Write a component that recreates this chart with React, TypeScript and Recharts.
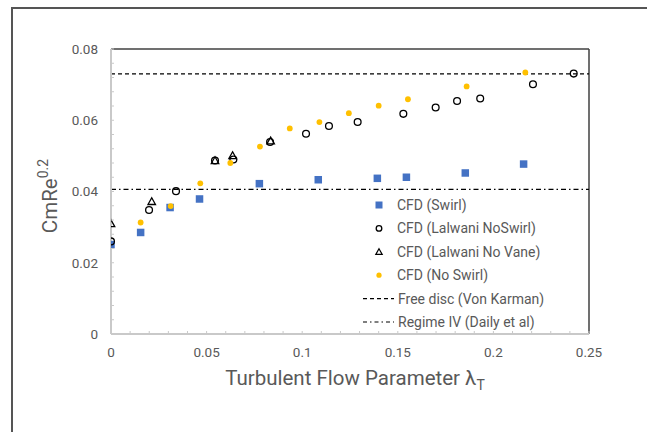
import React from 'react';
import { ScatterChart, Scatter, XAxis, YAxis, ReferenceLine, Legend } from 'recharts';

// Turbulent flow parameter (x) and moment coefficient CmRe^0.2 (y) per series
const swirlX = [0, 0.0155, 0.0309, 0.0463, 0.0776, 0.1084, 0.1393, 0.1545, 0.1853, 0.2158];
const swirlY = [0.0251, 0.0285, 0.0355, 0.0379, 0.0422, 0.0433, 0.0437, 0.044, 0.0452, 0.0477];

const lalwaniNoSwirlX = [0, 0.0199, 0.034, 0.0544, 0.064, 0.0832, 0.102, 0.114, 0.129, 0.1529, 0.1698, 0.181, 0.1931, 0.2207, 0.242];
const lalwaniNoSwirlY = [0.026, 0.0348, 0.0401, 0.0487, 0.049, 0.0539, 0.0562, 0.0584, 0.0595, 0.0618, 0.0636, 0.0654, 0.0661, 0.0701, 0.0731];

const lalwaniNoVaneX = [0, 0.0213, 0.0544, 0.0636, 0.0835];
const lalwaniNoVaneY = [0.0311, 0.0373, 0.0488, 0.0502, 0.0543];

const noSwirlX = [0.0155, 0.0312, 0.0467, 0.0624, 0.0779, 0.0935, 0.109, 0.1244, 0.14, 0.1553, 0.186, 0.2167];
const noSwirlY = [0.0313, 0.0359, 0.0423, 0.048, 0.0526, 0.0577, 0.0595, 0.062, 0.0641, 0.0659, 0.0695, 0.0734];

// Reference correlations
const FREE_DISC = 0.073;
const REGIME_IV = 0.0406;

// Axis tick values (minor ticks carry no label)
const xTicks = [0, 0.01, 0.02, 0.03, 0.04, 0.05, 0.06, 0.07, 0.08, 0.09, 0.1, 0.11, 0.12, 0.13, 0.14, 0.15, 0.16, 0.17, 0.18, 0.19, 0.2, 0.21, 0.22, 0.23, 0.24, 0.25];
const xTickLabels = ['0', '0.05', '0.1', '0.15', '0.2', '0.25'];
const yTicks = [0, 0.004, 0.008, 0.012, 0.016, 0.02, 0.024, 0.028, 0.032, 0.036, 0.04, 0.044, 0.048, 0.052, 0.056, 0.06, 0.064, 0.068, 0.072, 0.076, 0.08];
const yTickLabels = ['0', '0.02', '0.04', '0.06', '0.08'];

const zip = (xs: number[], ys: number[]) => xs.map((x, i) => ({ x, y: ys[i] }));

const swirl = zip(swirlX, swirlY);
const lalwaniNoSwirl = zip(lalwaniNoSwirlX, lalwaniNoSwirlY);
const lalwaniNoVane = zip(lalwaniNoVaneX, lalwaniNoVaneY);
const noSwirl = zip(noSwirlX, noSwirlY);

const W = 647;
const H = 432;
const PLOT_LEFT = 111;
const PLOT_TOP = 49;
const PLOT_RIGHT = 589;
const PLOT_BOTTOM = 334;
const Y_AXIS_W = 60;
const X_AXIS_H = 30;

const FONT = 'Roboto, "Noto Sans", sans-serif';
const TEXT = '#595959';
const BLUE = '#4472C4';
const GOLD = '#FFC000';
const AXIS = '#c9c9c9';

const fmt = (v: number) => String(Number(v.toFixed(3)));

const XTick = (props: any) => {
  const { x, y, payload } = props;
  const label = fmt(payload.value);
  return (
    <g>
      <line x1={x} x2={x} y1={PLOT_BOTTOM} y2={PLOT_BOTTOM - 3} stroke={AXIS} strokeWidth={1} />
      {xTickLabels.includes(label) && (
        <text x={x} y={y} dy="0.71em" textAnchor="middle" fontSize={13.5} fill={TEXT} fontFamily={FONT}>
          {label}
        </text>
      )}
    </g>
  );
};

const YTick = (props: any) => {
  const { x, y, payload } = props;
  const label = fmt(payload.value);
  return (
    <g>
      <line x1={PLOT_LEFT} x2={PLOT_LEFT + 3} y1={y} y2={y} stroke={AXIS} strokeWidth={1} />
      {yTickLabels.includes(label) && (
        <text x={x} y={y} dy="0.355em" textAnchor="end" fontSize={13.5} fill={TEXT} fontFamily={FONT}>
          {label}
        </text>
      )}
    </g>
  );
};

const XTitle = () => (
  <text x={355} y={385} textAnchor="middle" fontSize={20.5} fill={TEXT} fontFamily={FONT}>
    Turbulent Flow Parameter λ
    <tspan fontSize={14} dy={5}>T</tspan>
  </text>
);

const YTitle = () => (
  <text
    x={57}
    y={196}
    transform="rotate(-90 57 196)"
    textAnchor="middle"
    fontSize={20.5}
    fill={TEXT}
    fontFamily={FONT}
  >
    CmRe
    <tspan fontSize={14} dy={-9}>0.2</tspan>
  </text>
);

const square = (size: number, color: string) => (p: any) => (
  <rect x={p.cx - size / 2} y={p.cy - size / 2} width={size} height={size} fill={color} />
);
const ring = (r: number) => (p: any) => (
  <circle cx={p.cx} cy={p.cy} r={r} fill="none" stroke="#000" strokeWidth={1.3} />
);
const triangle = (s: number) => (p: any) => {
  const h = s * 0.9;
  return (
    <path
      d={`M${p.cx},${p.cy - h / 2} L${p.cx + s / 2},${p.cy + h / 2} L${p.cx - s / 2},${p.cy + h / 2} Z`}
      fill="none"
      stroke="#000"
      strokeWidth={1.3}
      strokeLinejoin="miter"
    />
  );
};
const dot = (r: number, color: string) => (p: any) => <circle cx={p.cx} cy={p.cy} r={r} fill={color} />;

const legendRows = [
  { kind: 'square', label: 'CFD (Swirl)' },
  { kind: 'ring', label: 'CFD (Lalwani NoSwirl)' },
  { kind: 'triangle', label: 'CFD (Lalwani No Vane)' },
  { kind: 'dot', label: 'CFD (No Swirl)' },
  { kind: 'dash', label: 'Free disc (Von Karman)' },
  { kind: 'dashdot', label: 'Regime IV (Daily et al)' },
];

const LegendBox = () => (
  <svg width={250} height={140} style={{ display: 'block', overflow: 'visible' }}>
    {legendRows.map((row, i) => {
      const cy = 12 + i * 23.4;
      const mx = 24;
      let marker: React.ReactNode = null;
      if (row.kind === 'square') marker = <rect x={mx - 3.5} y={cy - 3.5} width={7} height={7} fill={BLUE} />;
      if (row.kind === 'ring') marker = <circle cx={mx} cy={cy} r={2.8} fill="none" stroke="#000" strokeWidth={1.3} />;
      if (row.kind === 'triangle')
        marker = (
          <path d={`M${mx},${cy - 3} L${mx + 3.2},${cy + 2.6} L${mx - 3.2},${cy + 2.6} Z`} fill="none" stroke="#000" strokeWidth={1.2} />
        );
      if (row.kind === 'dot') marker = <circle cx={mx} cy={cy} r={2.6} fill={GOLD} />;
      if (row.kind === 'dash')
        marker = <line x1={8} x2={39} y1={cy} y2={cy} stroke="#000" strokeWidth={1.2} strokeDasharray="4 3" />;
      if (row.kind === 'dashdot')
        marker = <line x1={8} x2={39} y1={cy} y2={cy} stroke="#000" strokeWidth={1.2} strokeDasharray="4 3 1.5 3" />;
      const tx = row.kind === 'dash' || row.kind === 'dashdot' ? 43 : 42;
      return (
        <g key={row.label}>
          {marker}
          <text x={tx} y={cy} dy="0.35em" fontSize={14} fill={TEXT} fontFamily={FONT}>
            {row.label}
          </text>
        </g>
      );
    })}
  </svg>
);

export default function App() {
  return (
    <div style={{ position: 'absolute', left: 0, top: 0, width: W, height: H, overflow: 'hidden', background: '#fff' }}>
      <div
        style={{
          position: 'absolute',
          left: 11,
          top: 7,
          width: W + 40,
          height: H + 40,
          border: '2px solid #555',
          boxSizing: 'border-box',
        }}
      />
      <div style={{ position: 'absolute', left: 0, top: 0 }}>
        <ScatterChart
          width={W}
          height={H}
          margin={{
            top: PLOT_TOP,
            right: W - PLOT_RIGHT,
            bottom: H - PLOT_BOTTOM - X_AXIS_H,
            left: PLOT_LEFT - Y_AXIS_W,
          }}
        >
          <XAxis
            type="number"
            dataKey="x"
            domain={[0, 0.25]}
            ticks={xTicks}
            interval={0}
            tick={XTick}
            tickLine={false}
            tickSize={4}
            tickMargin={9}
            height={X_AXIS_H}
            axisLine={{ stroke: AXIS, strokeWidth: 2 }}
            allowDataOverflow
            label={XTitle}
          />
          <YAxis
            type="number"
            dataKey="y"
            domain={[0, 0.08]}
            ticks={yTicks}
            interval={0}
            tick={YTick}
            tickLine={false}
            tickSize={0}
            tickMargin={13}
            width={Y_AXIS_W}
            axisLine={{ stroke: AXIS, strokeWidth: 2 }}
            allowDataOverflow
            label={YTitle}
          />
          <ReferenceLine y={0.08} stroke="#404040" strokeWidth={1.5} />
          <ReferenceLine x={0.25} stroke="#404040" strokeWidth={1.5} />
          <ReferenceLine y={FREE_DISC} stroke="#000" strokeWidth={1.2} strokeDasharray="4 3" />
          <ReferenceLine y={REGIME_IV} stroke="#000" strokeWidth={1.2} strokeDasharray="5 3 1.5 3" />
          <Scatter name="CFD (Swirl)" data={swirl} shape={square(7.5, BLUE)} isAnimationActive={false} />
          <Scatter name="CFD (Lalwani NoSwirl)" data={lalwaniNoSwirl} shape={ring(3.4)} isAnimationActive={false} />
          <Scatter name="CFD (Lalwani No Vane)" data={lalwaniNoVane} shape={triangle(7.5)} isAnimationActive={false} />
          <Scatter name="CFD (No Swirl)" data={noSwirl} shape={dot(2.9, GOLD)} isAnimationActive={false} />
          <Legend
            layout="vertical"
            align="center"
            verticalAlign="middle"
            content={LegendBox}
            wrapperStyle={{ position: 'absolute', left: 355, top: 193, width: 250, height: 140 }}
          />
        </ScatterChart>
      </div>
    </div>
  );
}
